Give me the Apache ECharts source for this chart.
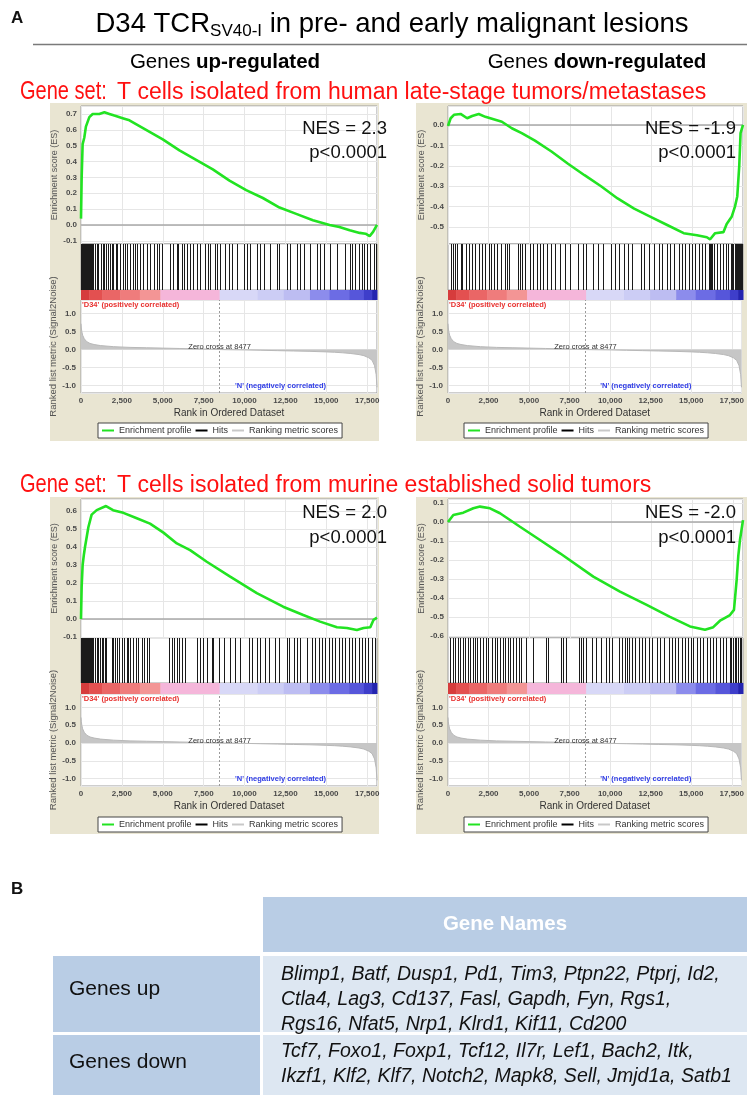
<!DOCTYPE html>
<html>
<head>
<meta charset="utf-8">
<script src="https://cdn.jsdelivr.net/npm/echarts@6/dist/echarts.min.js"></script>
<style>
html,body{margin:0;padding:0;background:#fff;}
#chart{width:747px;height:1095px;}
</style>
</head>
<body>
<div id="chart"></div>
<script>
const FONT = "'Liberation Sans', Arial, Helvetica, sans-serif";
const N = 18100;
const xTickStep = 2500;
const zeroCross = 8477;

// ---- Enrichment score curves (rank, ES) ----
const esRankTL = [0, 40, 100, 200, 300, 510, 715, 1120, 1430, 1735, 2040, 2500, 2960, 3980, 5000, 6020, 7040, 8060, 9080, 10100, 11120, 12140, 13160, 14180, 15200, 15800, 16430, 17040, 17400, 17650, 17860, 18100];
const esValTL  = [0.04, 0.30, 0.51, 0.55, 0.62, 0.68, 0.70, 0.70, 0.71, 0.70, 0.69, 0.675, 0.66, 0.60, 0.54, 0.47, 0.41, 0.35, 0.28, 0.22, 0.17, 0.11, 0.07, 0.03, 0.0, -0.013, -0.034, -0.05, -0.055, -0.07, -0.044, 0.0];

const esRankTR = [0, 162, 365, 771, 1176, 1481, 1886, 2292, 2799, 3306, 3915, 4523, 5335, 6349, 7363, 8377, 9391, 10406, 11420, 12434, 13448, 14462, 15274, 15882, 16085, 16389, 16897, 17099, 17404, 17606, 17748, 17870, 17951, 18100];
const esValTR  = [-0.005, 0.033, 0.05, 0.054, 0.033, 0.044, 0.054, 0.04, 0.028, 0.016, -0.016, -0.04, -0.077, -0.13, -0.19, -0.246, -0.30, -0.36, -0.41, -0.45, -0.49, -0.53, -0.54, -0.55, -0.56, -0.53, -0.525, -0.485, -0.45, -0.40, -0.35, -0.2, -0.04, 0.0];

const esRankBL = [0, 40, 100, 180, 245, 450, 650, 960, 1530, 1960, 2590, 3410, 4220, 5040, 5860, 6670, 7690, 9120, 10750, 12360, 13590, 14620, 15650, 16260, 16870, 17280, 17690, 17890, 18100];
const esValBL  = [0.0, 0.18, 0.30, 0.36, 0.40, 0.51, 0.58, 0.605, 0.628, 0.605, 0.59, 0.56, 0.53, 0.48, 0.42, 0.383, 0.318, 0.235, 0.144, 0.068, 0.022, -0.015, -0.046, -0.05, -0.061, -0.05, -0.046, -0.005, 0.007];

const esRankBR = [0, 20, 327, 941, 1554, 1963, 2577, 3190, 4417, 5644, 6871, 8916, 10552, 12190, 13620, 14847, 15767, 16276, 16687, 16890, 17301, 17546, 17711, 17810, 17914, 18100];
const esValBR  = [0.0, 0.01, 0.037, 0.049, 0.072, 0.081, 0.072, 0.046, -0.025, -0.095, -0.165, -0.288, -0.367, -0.437, -0.50, -0.55, -0.568, -0.554, -0.52, -0.51, -0.49, -0.463, -0.305, -0.18, -0.095, 0.01];

// ---- Hit positions (rank) ----
const hitsTL = [10, 30, 60, 90, 120, 160, 200, 250, 300, 350, 400, 460, 520, 580, 640, 700, 750, 857, 959, 1061, 1204, 1327, 1408, 1531, 1673, 1776, 1878, 1980, 2143, 2224, 2388, 2551, 2694, 2796, 3000, 3204, 3306, 3449, 3612, 3816, 4061, 4224, 4469, 4633, 4776, 4939, 5449, 5653, 5857, 5959, 6163, 6306, 6469, 6673, 6878, 7082, 7286, 7592, 7796, 7898, 8204, 8306, 8510, 8816, 9020, 9224, 9531, 9939, 10143, 10347, 10755, 10959, 11163, 11571, 11980, 12082, 12592, 12796, 13204, 13408, 13612, 14020, 14429, 14633, 14837, 15245, 15653, 16163, 16469, 16571, 16776, 16980, 17184, 17286, 17490, 17694, 17898, 18060];
const hitsTR = [162, 304, 426, 568, 771, 872, 1116, 1278, 1481, 1684, 1886, 2089, 2292, 2495, 2657, 2799, 3002, 3266, 3509, 3611, 3753, 4320, 4422, 4523, 4726, 5030, 5233, 5436, 5639, 5842, 6045, 6308, 6552, 6856, 7160, 7465, 7972, 8276, 8479, 8884, 9189, 9493, 10000, 10243, 10507, 10811, 11055, 11318, 11826, 12028, 12333, 12637, 12941, 13144, 13448, 13651, 13854, 14158, 14361, 14564, 14767, 14970, 15172, 15375, 15578, 15781, 15984, 16050, 16120, 16187, 16329, 16491, 16694, 16897, 17059, 17201, 17343, 17420, 17505, 17600, 17667, 17750, 17809, 17860, 17911, 17960, 18012, 18060];
const hitsBL = [10, 30, 60, 90, 120, 160, 200, 250, 300, 350, 400, 460, 520, 580, 640, 700, 750, 857, 959, 1061, 1163, 1265, 1367, 1450, 1531, 1878, 1980, 2082, 2224, 2347, 2490, 2633, 2796, 2898, 3000, 3204, 3367, 3510, 3714, 3857, 4020, 4184, 5408, 5551, 5694, 5857, 6020, 6163, 6367, 7122, 7286, 7490, 7694, 8000, 8102, 8408, 8714, 9122, 9429, 9735, 10245, 10449, 10755, 10959, 11265, 11469, 11878, 12082, 12592, 12694, 13000, 13204, 13408, 13816, 14122, 14327, 14531, 14735, 14939, 15143, 15347, 15551, 15755, 15959, 16163, 16367, 16571, 16776, 16980, 17184, 17388, 17531, 17796, 18000];
const hitsBR = [142, 304, 446, 588, 751, 913, 1055, 1197, 1359, 1521, 1663, 1805, 1968, 2130, 2333, 2475, 2677, 2880, 3022, 3185, 3347, 3489, 3692, 3834, 3996, 4199, 4361, 4503, 4807, 5213, 6024, 6126, 6937, 7039, 7241, 8053, 8154, 8296, 8458, 8864, 9067, 9371, 9675, 9878, 10081, 10487, 10690, 10852, 10994, 11136, 11298, 11501, 11704, 11907, 12110, 12312, 12515, 12819, 13022, 13225, 13529, 13732, 13935, 14138, 14341, 14544, 14746, 14909, 15051, 15254, 15456, 15659, 15862, 16065, 16268, 16471, 16673, 16876, 17079, 17282, 17383, 17485, 17586, 17688, 17789, 17900, 18000];

// ---- Ranked list metric (Signal2Noise) ----
const metricRank = [0, 20, 50, 100, 200, 350, 550, 800, 1200, 2000, 3000, 4000, 5000, 6000, 7000, 8000, 8477, 9000, 10000, 11000, 12000, 13000, 14000, 15000, 15500, 16000, 16500, 17000, 17300, 17600, 17800, 17950, 18050, 18100];
const metricVal  = [0.72, 0.6, 0.5, 0.4, 0.3, 0.22, 0.17, 0.14, 0.11, 0.08, 0.06, 0.05, 0.04, 0.03, 0.02, 0.01, 0, -0.005, -0.01, -0.02, -0.03, -0.04, -0.05, -0.065, -0.075, -0.09, -0.11, -0.14, -0.17, -0.23, -0.3, -0.45, -0.7, -1.05];

// ---- Colour band (rank segments and metric level) ----
const bandEdges  = [0, 500, 1300, 2400, 3600, 4850, 8477, 10800, 12400, 14000, 15200, 16400, 17300, 17800, 18100];
const bandLevels = [6, 5, 4, 3, 2, 1, -1, -2, -3, -4, -5, -6, -7, -8];

// ---- Texts ----
const nesLabels = ['NES = 2.3', 'NES = -1.9', 'NES = 2.0', 'NES = -2.0'];
const pLabels = ['p<0.0001', 'p<0.0001', 'p<0.0001', 'p<0.0001'];
const geneSetNames = ['T cells isolated from human late-stage tumors/metastases', 'T cells isolated from murine established solid tumors'];
const genesUp = ['Blimp1', 'Batf', 'Dusp1', 'Pd1', 'Tim3', 'Ptpn22', 'Ptprj', 'Id2', 'Ctla4', 'Lag3', 'Cd137', 'Fasl', 'Gapdh', 'Fyn', 'Rgs1', 'Rgs16', 'Nfat5', 'Nrp1', 'Klrd1', 'Kif11', 'Cd200'];
const genesDown = ['Tcf7', 'Foxo1', 'Foxp1', 'Tcf12', 'Il7r', 'Lef1', 'Bach2', 'Itk', 'Ikzf1', 'Klf2', 'Klf7', 'Notch2', 'Mapk8', 'Sell', 'Jmjd1a', 'Satb1'];
const upLineCounts = [8, 7, 6];
const downLineCounts = [8, 8];

// ---- Layout ----
const COL = {
  left:  {plotX: 81,  plotW: 296, bgX: 50,  bgW: 329, nesX: 387, legendX: 98},
  right: {plotX: 448, plotW: 295, bgX: 416, bgW: 331, nesX: 736, legendX: 464}
};
const ROW = {
  top:    {bgY: 103, bgH: 338, esY: 106, esH: 138, hitsH: 46, bandH: 10, rmH: 93, legendY: 423, nesY1: 129, nesY2: 153},
  bottom: {bgY: 497, bgH: 337, esY: 499, esH: 139, hitsH: 45, bandH: 11, rmH: 92, legendY: 817, nesY1: 513, nesY2: 538}
};
const panels = [
  {col: 'left',  row: 'top',    esR: esRankTL, esV: esValTL, hits: hitsTL, esMin: -0.12,  esMax: 0.75,  esSplit: 8},
  {col: 'right', row: 'top',    esR: esRankTR, esV: esValTR, hits: hitsTR, esMin: -0.583, esMax: 0.093, esSplit: 7},
  {col: 'left',  row: 'bottom', esR: esRankBL, esV: esValBL, hits: hitsBL, esMin: -0.106, esMax: 0.667, esSplit: 8},
  {col: 'right', row: 'bottom', esR: esRankBR, esV: esValBR, hits: hitsBR, esMin: -0.611, esMax: 0.121, esSplit: 7}
];
const rmMin = -1.21, rmMax = 1.38;

const posColors = ['#f5b6da', '#f39595', '#ef7c7c', '#ea6666', '#e35050', '#d63c3c'];
const negColors = ['#d8d8f7', '#cccdf5', '#bdbdf2', '#8c8cec', '#6c6ce4', '#5656da', '#3e3eca', '#2424b0'];
function bandColor(level) { return level > 0 ? posColors[level - 1] : negColors[-level - 1]; }

function fmtX(v) {
  if (Math.abs(v % xTickStep) > 1e-6) return '';
  return String(Math.round(v)).replace(/\B(?=(\d{3})+(?!\d))/g, ',');
}
function fmtStep(step) {
  return function (v) {
    const q = v / step;
    if (Math.abs(q - Math.round(q)) > 1e-6) return '';
    return (Math.round(q) * step).toFixed(1);
  };
}

const grids = [], xAxes = [], yAxes = [], series = [], legends = [], graphics = [];
const LEG = ['Enrichment profile', 'Hits', 'Ranking metric scores'];
const gridLine = {show: true, lineStyle: {color: '#e6e6e6', width: 1}};
const tickLabel = {fontSize: 8, color: '#4a4a4a', fontFamily: FONT, fontWeight: 'bold'};

panels.forEach(function (p, i) {
  const c = COL[p.col], r = ROW[p.row];
  const g = grids.length;
  const yEs = r.esY, yHits = yEs + r.esH, yBand = yHits + r.hitsH, yRm = yBand + r.bandH;
  const gridBase = {left: c.plotX, width: c.plotW, show: true, backgroundColor: '#fff', borderColor: '#9c9c9c', borderWidth: 1};
  grids.push(Object.assign({}, gridBase, {top: yEs, height: r.esH}));
  grids.push(Object.assign({}, gridBase, {top: yHits, height: r.hitsH}));
  grids.push({left: c.plotX, width: c.plotW, top: yBand, height: r.bandH, show: false});
  grids.push(Object.assign({}, gridBase, {top: yRm, height: r.rmH}));

  const xBase = function (gi) {
    return {gridIndex: gi, type: 'value', min: 0, max: N, interval: xTickStep,
      axisLine: {show: false}, axisTick: {show: false}, axisLabel: {show: false}, splitLine: {show: false}};
  };
  const xEs = xBase(g); xEs.splitLine = gridLine;
  const xRm = xBase(g + 3); xRm.splitLine = gridLine;
  xRm.axisLabel = Object.assign({show: true, margin: 4, formatter: fmtX}, tickLabel);
  xRm.name = 'Rank in Ordered Dataset';
  xRm.nameLocation = 'middle';
  xRm.nameGap = 15;
  xRm.nameTextStyle = {fontSize: 10, color: '#333', fontFamily: FONT};
  xAxes.push(xEs, xBase(g + 1), xBase(g + 2), xRm);

  yAxes.push({gridIndex: g, type: 'value', min: p.esMin, max: p.esMax, splitNumber: p.esSplit,
    axisLine: {show: false}, axisTick: {show: false}, splitLine: gridLine,
    axisLabel: Object.assign({margin: 4, formatter: fmtStep(0.1)}, tickLabel),
    name: 'Enrichment score (ES)', nameLocation: 'middle', nameGap: 20,
    nameTextStyle: {fontSize: 9, color: '#555', fontFamily: FONT}});
  yAxes.push({gridIndex: g + 1, type: 'value', min: 0, max: 1, show: false});
  yAxes.push({gridIndex: g + 2, type: 'value', min: 0, max: 1, show: false});
  yAxes.push({gridIndex: g + 3, type: 'value', min: rmMin, max: rmMax, splitNumber: 5,
    axisLine: {show: false}, axisTick: {show: false}, splitLine: gridLine,
    axisLabel: Object.assign({margin: 5, formatter: fmtStep(0.5)}, tickLabel),
    name: 'Ranked list metric (Signal2Noise)', nameLocation: 'middle', nameGap: 20,
    nameTextStyle: {fontSize: 9.5, color: '#555', fontFamily: FONT}});

  // Enrichment profile
  series.push({type: 'line', name: LEG[0], xAxisIndex: g, yAxisIndex: g, z: 5,
    data: p.esR.map(function (rk, k) { return [rk, p.esV[k]]; }),
    symbol: 'none', lineStyle: {color: '#22e322', width: 2.6}, itemStyle: {color: '#22e322'},
    markLine: {silent: true, symbol: 'none', label: {show: false},
      lineStyle: {color: '#a8a8a8', width: 1.5, type: 'solid'}, data: [{yAxis: 0}]}});
  // Hits
  series.push({type: 'custom', name: LEG[1], xAxisIndex: g + 1, yAxisIndex: g + 1,
    itemStyle: {color: '#000'},
    data: p.hits.map(function (h) { return [h, 1]; }),
    renderItem: function (params, api) {
      const pt = api.coord([api.value(0), 0]);
      const cs = params.coordSys;
      const x = Math.round(pt[0]) + 0.5;
      return {type: 'line', shape: {x1: x, y1: cs.y, x2: x, y2: cs.y + cs.height},
        style: {stroke: '#1a1a1a', lineWidth: 1}};
    }});
  // Colour band
  series.push({type: 'custom', name: 'band', xAxisIndex: g + 2, yAxisIndex: g + 2,
    encode: {x: [0, 1]},
    data: bandLevels.map(function (lv, k) { return [bandEdges[k], bandEdges[k + 1], lv]; }),
    renderItem: function (params, api) {
      const s = api.coord([api.value(0), 0]);
      const e = api.coord([api.value(1), 1]);
      return {type: 'rect', shape: {x: s[0], y: e[1], width: e[0] - s[0] + 0.5, height: s[1] - e[1]},
        style: {fill: bandColor(api.value(2))}};
    }});
  // Ranked metric
  series.push({type: 'line', name: LEG[2], xAxisIndex: g + 3, yAxisIndex: g + 3,
    data: metricRank.map(function (rk, k) { return [rk, metricVal[k]]; }),
    symbol: 'none', lineStyle: {color: '#b8b8b8', width: 1}, itemStyle: {color: '#c8c8c8'},
    areaStyle: {color: '#c6c6c6', opacity: 1},
    markLine: {silent: true, symbol: 'none', label: {show: false},
      lineStyle: {color: '#9a9a9a', width: 1, type: [2, 2]}, data: [{xAxis: zeroCross}]},
    markPoint: {silent: true, symbol: 'circle', symbolSize: 0,
      data: [
        {coord: [zeroCross, 0.07], label: {show: true, position: 'inside', formatter: 'Zero cross at ' + zeroCross,
          fontSize: 7.5, color: '#333', fontFamily: FONT}},
        {coord: [0, 1.25], label: {show: true, position: 'right', distance: 1, formatter: "'D34' (positively correlated)",
          fontSize: 7.5, fontWeight: 'bold', color: '#e8302e', fontFamily: FONT}},
        {coord: [12200, -1.0], label: {show: true, position: 'inside', formatter: "'N' (negatively correlated)",
          fontSize: 7.5, fontWeight: 'bold', color: '#2f3ce6', fontFamily: FONT}}
      ]}});

  legends.push({left: c.legendX, top: r.legendY, orient: 'horizontal', data: LEG,
    icon: 'rect', itemWidth: 12, itemHeight: 2, itemGap: 4, padding: [3, 4],
    backgroundColor: '#fff', borderColor: '#444', borderWidth: 1, selectedMode: false,
    textStyle: {fontSize: 9, color: '#333', fontFamily: FONT}});

  // beige panel background
  graphics.push({type: 'rect', z: -100, shape: {x: c.bgX, y: r.bgY, width: c.bgW, height: r.bgH},
    style: {fill: '#e9e5d2'}});
  // NES / p texts
  graphics.push({type: 'text', z: 100, style: {text: nesLabels[i], x: c.nesX, y: r.nesY1, textAlign: 'right',
    textVerticalAlign: 'middle', font: '18.5px ' + FONT, fill: '#111'}});
  graphics.push({type: 'text', z: 100, style: {text: pLabels[i], x: c.nesX, y: r.nesY2, textAlign: 'right',
    textVerticalAlign: 'middle', font: '18.5px ' + FONT, fill: '#111'}});
});

// ---- Header texts ----
graphics.push({type: 'text', z: 100, style: {text: 'A', x: 11, y: 18, textVerticalAlign: 'middle',
  font: 'bold 17px ' + FONT, fill: '#111'}});
graphics.push({type: 'text', z: 100, style: {
  text: '{a|D34 TCR}{s|SV40-I}{a| in pre- and early malignant lesions}',
  x: 392, y: 24, textAlign: 'center', textVerticalAlign: 'middle',
  rich: {a: {fontSize: 27.5, fontFamily: FONT, color: '#111', lineHeight: 32, verticalAlign: 'middle'},
         s: {fontSize: 17, fontFamily: FONT, color: '#111', lineHeight: 17, verticalAlign: 'bottom'}}}});
graphics.push({type: 'line', z: 100, shape: {x1: 33, y1: 44.5, x2: 747, y2: 44.5},
  style: {stroke: '#7a7a7a', lineWidth: 1.5}});
graphics.push({type: 'text', z: 100, style: {text: '{n|Genes }{b|up-regulated}', x: 225, y: 62,
  textAlign: 'center', textVerticalAlign: 'middle',
  rich: {n: {fontSize: 20.5, fontFamily: FONT, color: '#111'}, b: {fontSize: 20.5, fontFamily: FONT, color: '#111', fontWeight: 'bold'}}}});
graphics.push({type: 'text', z: 100, style: {text: '{n|Genes }{b|down-regulated}', x: 597, y: 62,
  textAlign: 'center', textVerticalAlign: 'middle',
  rich: {n: {fontSize: 20.5, fontFamily: FONT, color: '#111'}, b: {fontSize: 20.5, fontFamily: FONT, color: '#111', fontWeight: 'bold'}}}});
[92, 485].forEach(function (yy, k) {
  graphics.push({type: 'text', z: 100, x: 20, y: yy, scaleX: 0.77, scaleY: 1,
    style: {text: 'Gene set:', x: 0, y: 0, textVerticalAlign: 'middle', font: '26px ' + FONT, fill: '#ff1010'}});
  graphics.push({type: 'text', z: 100, style: {text: geneSetNames[k], x: 117, y: yy + 1,
    textVerticalAlign: 'middle', font: '23px ' + FONT, fill: '#ff1010'}});
});

// ---- Table B ----
const HEAD_BLUE = '#b9cde5', CELL_LIGHT = '#dde7f2';
graphics.push({type: 'text', z: 100, style: {text: 'B', x: 11, y: 889, textVerticalAlign: 'middle',
  font: 'bold 17px ' + FONT, fill: '#111'}});
graphics.push({type: 'rect', z: 10, shape: {x: 263, y: 897, width: 484, height: 55}, style: {fill: HEAD_BLUE}});
graphics.push({type: 'text', z: 100, style: {text: 'Gene Names', x: 505, y: 924, textAlign: 'center',
  textVerticalAlign: 'middle', font: 'bold 20.5px ' + FONT, fill: '#fff'}});
graphics.push({type: 'rect', z: 10, shape: {x: 53, y: 956, width: 207, height: 76}, style: {fill: HEAD_BLUE}});
graphics.push({type: 'rect', z: 10, shape: {x: 263, y: 956, width: 484, height: 76}, style: {fill: CELL_LIGHT}});
graphics.push({type: 'rect', z: 10, shape: {x: 53, y: 1035, width: 207, height: 60}, style: {fill: HEAD_BLUE}});
graphics.push({type: 'rect', z: 10, shape: {x: 263, y: 1035, width: 484, height: 60}, style: {fill: CELL_LIGHT}});
graphics.push({type: 'text', z: 100, style: {text: 'Genes up', x: 69, y: 989, textVerticalAlign: 'middle',
  font: '21px ' + FONT, fill: '#111'}});
graphics.push({type: 'text', z: 100, style: {text: 'Genes down', x: 69, y: 1062, textVerticalAlign: 'middle',
  font: '21px ' + FONT, fill: '#111'}});
function geneLines(list, counts) {
  const out = []; let k = 0;
  counts.forEach(function (n, li) {
    const part = list.slice(k, k + n).join(', ');
    k += n;
    out.push(part + (li < counts.length - 1 ? ',' : ''));
  });
  return out;
}
geneLines(genesUp, upLineCounts).forEach(function (line, li) {
  graphics.push({type: 'text', z: 100, style: {text: line, x: 281, y: 975 + li * 25, textVerticalAlign: 'middle',
    font: 'italic 19.5px ' + FONT, fill: '#111'}});
});
geneLines(genesDown, downLineCounts).forEach(function (line, li) {
  graphics.push({type: 'text', z: 100, style: {text: line, x: 281, y: 1052 + li * 25, textVerticalAlign: 'middle',
    font: 'italic 19.5px ' + FONT, fill: '#111'}});
});

const chart = echarts.init(document.getElementById('chart'), null, {renderer: 'canvas', width: 747, height: 1095});
chart.setOption({
  animation: false,
  backgroundColor: '#fff',
  textStyle: {fontFamily: FONT},
  grid: grids,
  xAxis: xAxes,
  yAxis: yAxes,
  legend: legends,
  series: series,
  graphic: {elements: graphics}
});
</script>
</body>
</html>
